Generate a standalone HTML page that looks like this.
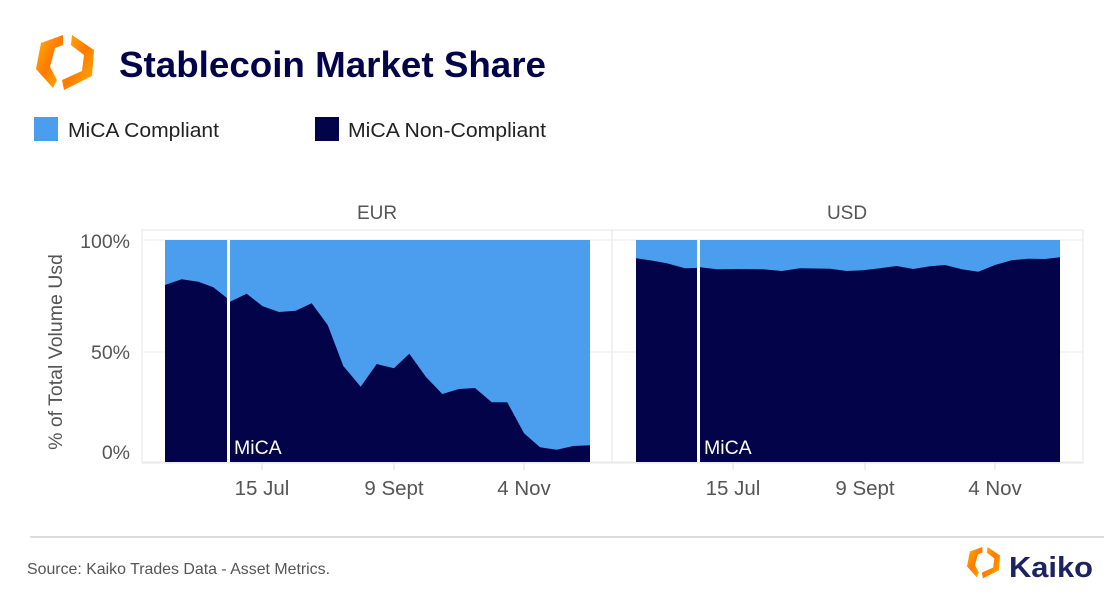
<!DOCTYPE html>
<html><head><meta charset="utf-8"><style>
body{margin:0;background:#fff;width:1120px;height:598px;overflow:hidden;font-family:"Liberation Sans",Arial,sans-serif}
</style></head><body>
<svg width="1120" height="598" viewBox="0 0 1120 598" xmlns="http://www.w3.org/2000/svg" font-family="Liberation Sans, Arial, sans-serif">
<defs><linearGradient id="g" x1="0" y1="0" x2="1" y2="1"><stop offset="0" stop-color="#ffb300"/><stop offset="0.5" stop-color="#ff7a00"/><stop offset="1" stop-color="#ffb300"/></linearGradient></defs>
<polygon points="63,35 41,43 36,69 53,88 57,80 50,67 55,48 63,45" fill="url(#g)"/>
<polygon points="72,35 94,50 92,76 64,90 62,80 82,71 84,55 71,45" fill="url(#g)"/>
<text x="119" y="77" font-size="36.5" font-weight="bold" fill="#02034a" textLength="427" lengthAdjust="spacingAndGlyphs">Stablecoin Market Share</text>
<rect x="34" y="117" width="24" height="24" fill="#4a9eed"/>
<text x="68" y="137" font-size="20.5" fill="#222" textLength="151" lengthAdjust="spacingAndGlyphs">MiCA Compliant</text>
<rect x="315" y="117" width="24" height="24" fill="#020348"/>
<text x="348" y="137" font-size="20.5" fill="#222" textLength="198" lengthAdjust="spacingAndGlyphs">MiCA Non-Compliant</text>
<text x="377" y="219" font-size="19" fill="#555" text-anchor="middle">EUR</text>
<text x="847" y="219" font-size="19" fill="#555" text-anchor="middle">USD</text>
<rect x="142" y="230" width="470" height="233" fill="none" stroke="#e6e6e6"/>
<rect x="612" y="230" width="471" height="233" fill="none" stroke="#e6e6e6"/>
<line x1="142" y1="240" x2="1083" y2="240" stroke="#eee"/>
<line x1="142" y1="352" x2="1083" y2="352" stroke="#eee"/>
<line x1="142" y1="462" x2="1083" y2="462" stroke="#eee"/>
<rect x="165" y="240" width="425" height="222" fill="#4a9eed"/>
<polygon fill="#020348" points="165,462 165,285 181.7,279.3 198.3,281.7 213.3,287.3 226,297.3 230,301.7 246.7,293.7 262.7,306.3 279,312 295.7,310.7 311.7,303.3 327.7,325 343.3,366 360.7,386.7 376.7,364 394,368.3 409.3,353.7 426,377 442.3,394 459,389 475,388 491.7,402.3 507.3,402.3 524,433.3 540,447.3 556.7,449.7 573.3,446 590,445.3 590,462"/>
<rect x="227" y="240" width="3" height="222" fill="#fff"/>
<text x="234" y="454" font-size="19.5" fill="#fff">MiCA</text>
<rect x="636" y="240" width="424" height="222" fill="#4a9eed"/>
<polygon fill="#020348" points="636,462 636,258.3 653,260.7 666.7,263.3 685,268.3 696,268 700,267.3 716.7,269.3 733,269 763,269.3 781.7,271 800,268.3 830,268.7 846.7,271 863,270.3 880,268.3 896.7,266 913.3,269 930,266.3 945,265 961.7,269.3 978.3,271.7 995,265 1011.7,260.3 1028.3,258.7 1045,259 1060,257.3 1060,462"/>
<rect x="697" y="240" width="3" height="222" fill="#fff"/>
<text x="704" y="454" font-size="19.5" fill="#fff">MiCA</text>
<g font-size="19.5" fill="#555" text-anchor="end">
<text x="130" y="248">100%</text><text x="130" y="359">50%</text><text x="130" y="459">0%</text>
</g>
<text transform="translate(62,352) rotate(-90)" font-size="19.5" fill="#555" text-anchor="middle">% of Total Volume Usd</text>
<g stroke="#ddd"><line x1="262" y1="463" x2="262" y2="470"/><line x1="394" y1="463" x2="394" y2="470"/><line x1="524" y1="463" x2="524" y2="470"/>
<line x1="733" y1="463" x2="733" y2="470"/><line x1="865" y1="463" x2="865" y2="470"/><line x1="995" y1="463" x2="995" y2="470"/></g>
<g font-size="20.5" fill="#555" text-anchor="middle">
<text x="262" y="495">15 Jul</text><text x="394" y="495">9 Sept</text><text x="524" y="495">4 Nov</text>
<text x="733" y="495">15 Jul</text><text x="865" y="495">9 Sept</text><text x="995" y="495">4 Nov</text>
</g>
<line x1="30" y1="537" x2="1104" y2="537" stroke="#bbb"/>
<text x="27" y="574" font-size="16" fill="#555" textLength="303" lengthAdjust="spacingAndGlyphs">Source: Kaiko Trades Data - Asset Metrics.</text>
<g transform="translate(967,547) scale(0.57)">
<polygon points="63,35 41,43 36,69 53,88 57,80 50,67 55,48 63,45" transform="translate(-36,-35)" fill="url(#g)"/>
<polygon points="72,35 94,50 92,76 64,90 62,80 82,71 84,55 71,45" transform="translate(-36,-35)" fill="url(#g)"/>
</g>
<text x="1009" y="577" font-size="29" font-weight="bold" fill="#1c2360" textLength="84" lengthAdjust="spacingAndGlyphs">Kaiko</text>
</svg>
</body></html>
